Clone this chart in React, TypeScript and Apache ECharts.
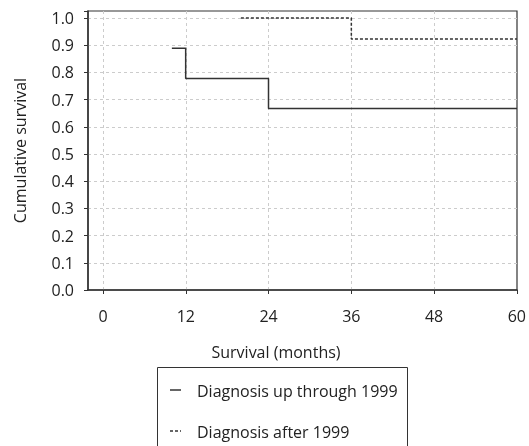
import React, { useEffect, useRef } from "react";
import * as echarts from "echarts";

const seriesNames = ["Diagnosis up through 1999", "Diagnosis after 1999"];
const upTo1999Months = [10, 12, 24, 60];
const upTo1999Survival = [0.889, 0.778, 0.667, 0.667];
const after1999Months = [20, 36, 60];
const after1999Survival = [1.0, 0.923, 0.923];
const xTicks = [0, 12, 24, 36, 48, 60];
const yTicks = [0, 0.1, 0.2, 0.3, 0.4, 0.5, 0.6, 0.7, 0.8, 0.9, 1.0];
const xTitle = "Survival (months)";
const yTitle = "Cumulative survival";

const FONT = "Open Sans";
const DOT: number[] = [3, 2];

export default function App() {
  const ref = useRef<HTMLDivElement>(null);
  useEffect(() => {
    document.body.style.margin = "0";
    const chart = echarts.init(ref.current!, null, { renderer: "svg" });
    const s1 = upTo1999Months.map((m, i) => [m, upTo1999Survival[i]]);
    const s2 = after1999Months.map((m, i) => [m, after1999Survival[i]]);
    const gridTop = 11;
    const gridBottom = 156;
    const gridRight = 12;
    const legendRows = [
      { y: 390, dash: "solid" as any },
      { y: 431, dash: DOT as any },
    ];
    const legendGraphics: any[] = [];
    legendRows.forEach((r, i) => {
      legendGraphics.push({
        type: "line", shape: { x1: 170, y1: r.y, x2: 181, y2: r.y },
        style: { stroke: "#333", lineWidth: 1.5, lineDash: r.dash === "solid" ? null : r.dash },
      });
      legendGraphics.push({
        type: "text", x: 197, y: r.y + 1,
        style: { text: seriesNames[i], fill: "#222", font: `16px "${FONT}"`, textAlign: "left", textVerticalAlign: "middle" },
      });
    });
    chart.setOption({
      animation: false,
      textStyle: { fontFamily: FONT },
      grid: [
        { left: 88, right: gridRight, top: gridTop, bottom: gridBottom, show: true, borderColor: "#333", borderWidth: 1.2, backgroundColor: "transparent" },
        { left: 103, right: gridRight, top: gridTop, bottom: gridBottom },
      ],
      xAxis: [
        {
          gridIndex: 0, type: "value", min: -2.15, max: 60,
          axisLine: { show: true, onZero: false, lineStyle: { color: "#333", width: 1.5 } },
          axisTick: { show: false }, axisLabel: { show: false }, splitLine: { show: false },
        },
        {
          gridIndex: 1, type: "value", min: 0, max: xTicks[xTicks.length - 1], interval: 12,
          axisLine: { show: false, onZero: false },
          axisTick: { show: true, length: 4, lineStyle: { color: "#333" } },
          axisLabel: { color: "#222", fontSize: 16, fontFamily: FONT, margin: 18, formatter: (v: number) => (xTicks.includes(v) ? String(v) : "") },
          splitLine: { show: true, showMaxLine: false, lineStyle: { color: "#ccc", type: [3, 3] } },
        },
      ],
      yAxis: [
        {
          gridIndex: 0, type: "value", min: 0, max: 1.026, interval: 0.1,
          name: yTitle, nameLocation: "middle", nameGap: 60,
          nameTextStyle: { color: "#222", fontSize: 16, fontFamily: FONT },
          axisLine: { show: true, onZero: false, lineStyle: { color: "#333", width: 1.5 } },
          axisTick: { show: true, length: 4, lineStyle: { color: "#333" } },
          axisLabel: {
            color: "#222", fontSize: 16, fontFamily: FONT, margin: 14,
            formatter: (v: number) => {
              const t = yTicks.find((y) => Math.abs(y - v) < 1e-6);
              return t === undefined ? "" : t.toFixed(1);
            },
          },
          splitLine: { show: true, showMaxLine: false, showMinLine: false, lineStyle: { color: "#ccc", type: [3, 3] } },
        },
        { gridIndex: 1, type: "value", min: 0, max: 1.026, show: false, axisLine: { show: false, onZero: false }, splitLine: { show: false } },
      ],
      graphic: [
        { type: "rect", left: 155, top: 365, shape: { width: 250, height: 100 }, style: { fill: "none", stroke: "#333", lineWidth: 1 } },
        { type: "text", x: 276, y: 352, style: { text: xTitle, fill: "#222", font: `16px "${FONT}"`, textAlign: "center", textVerticalAlign: "middle" } },
        ...legendGraphics,
      ],
      series: [
        {
          name: seriesNames[0], type: "line", step: "end", xAxisIndex: 0, yAxisIndex: 0, data: s1,
          symbol: "none", lineStyle: { color: "#333", width: 1.5, type: "solid" }, itemStyle: { color: "#333" },
        },
        {
          name: seriesNames[1], type: "line", step: "end", xAxisIndex: 0, yAxisIndex: 0, data: s2,
          symbol: "none", lineStyle: { color: "#333", width: 1.5, type: DOT }, itemStyle: { color: "#333" },
        },
      ],
    });
    return () => chart.dispose();
  }, []);
  return <div ref={ref} style={{ position: "fixed", left: 0, top: 0, width: 529, height: 446 }} />;
}
